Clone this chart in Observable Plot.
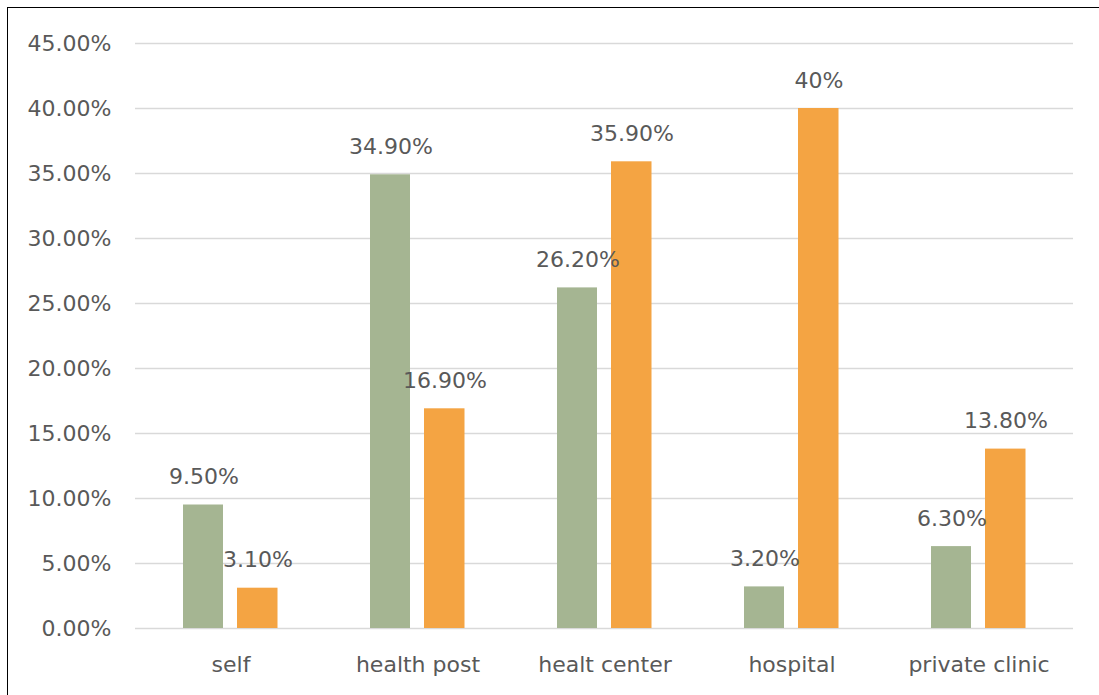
<!DOCTYPE html>
<html>
<head>
<meta charset="utf-8">
<script src="https://cdn.jsdelivr.net/npm/d3@7"></script>
<script src="https://cdn.jsdelivr.net/npm/@observablehq/plot@0.6"></script>
<style>
  html, body { margin: 0; padding: 0; background: #fff; overflow: hidden; }
  #frame {
    position: absolute; left: 7px; top: 7px; width: 1100px; height: 700px;
    border-top: 1.5px solid #000; border-left: 1.5px solid #000; box-sizing: border-box;
  }
</style>
</head>
<body>
<div id="frame"></div>
<script>
const categories = ["self", "health post", "healt center", "hospital", "private clinic"];
const seriesA = [9.5, 34.9, 26.2, 3.2, 6.3];
const seriesB = [3.1, 16.9, 35.9, 40, 13.8];
const labelsA = ["9.50%", "34.90%", "26.20%", "3.20%", "6.30%"];
const labelsB = ["3.10%", "16.90%", "35.90%", "40%", "13.80%"];
const yTicks = [0, 5, 10, 15, 20, 25, 30, 35, 40, 45];

const dataA = categories.map((c, i) => ({cat: c, v: seriesA[i], label: labelsA[i]}));
const dataB = categories.map((c, i) => ({cat: c, v: seriesB[i], label: labelsB[i]}));

const green = "#a5b592";
const orange = "#f4a443";
const textColor = "#595959";

const chart = Plot.plot({
  width: 1091,
  height: 687,
  marginLeft: 127,
  marginRight: 26,
  marginTop: 35,
  marginBottom: 67,
  style: {fontFamily: "DejaVu Sans", fontSize: "22px", color: textColor, background: "transparent"},
  x: {domain: categories, padding: 0, label: null, tickSize: 0, tickPadding: 28},
  y: {domain: [0, 45], ticks: yTicks, tickFormat: d => d.toFixed(2) + "%", label: null, tickSize: 0, tickPadding: 24},
  marks: [
    Plot.ruleY(yTicks, {stroke: "#d9d9d9", strokeWidth: 1.5}),
    Plot.barY(dataA, {x: "cat", y: "v", fill: green, insetLeft: 46, insetRight: 101}),
    Plot.barY(dataB, {x: "cat", y: "v", fill: orange, insetLeft: 100, insetRight: 46.5}),
    Plot.text(dataA, {x: "cat", y: "v", text: "label", dx: -27, dy: -28, fill: textColor, fontSize: 22}),
    Plot.text(dataB, {x: "cat", y: "v", text: "label", dx: 27, dy: -28, fill: textColor, fontSize: 22})
  ]
});
chart.style.position = "absolute";
chart.style.left = "8px";
chart.style.top = "8px";
document.body.appendChild(chart);
</script>
</body>
</html>
